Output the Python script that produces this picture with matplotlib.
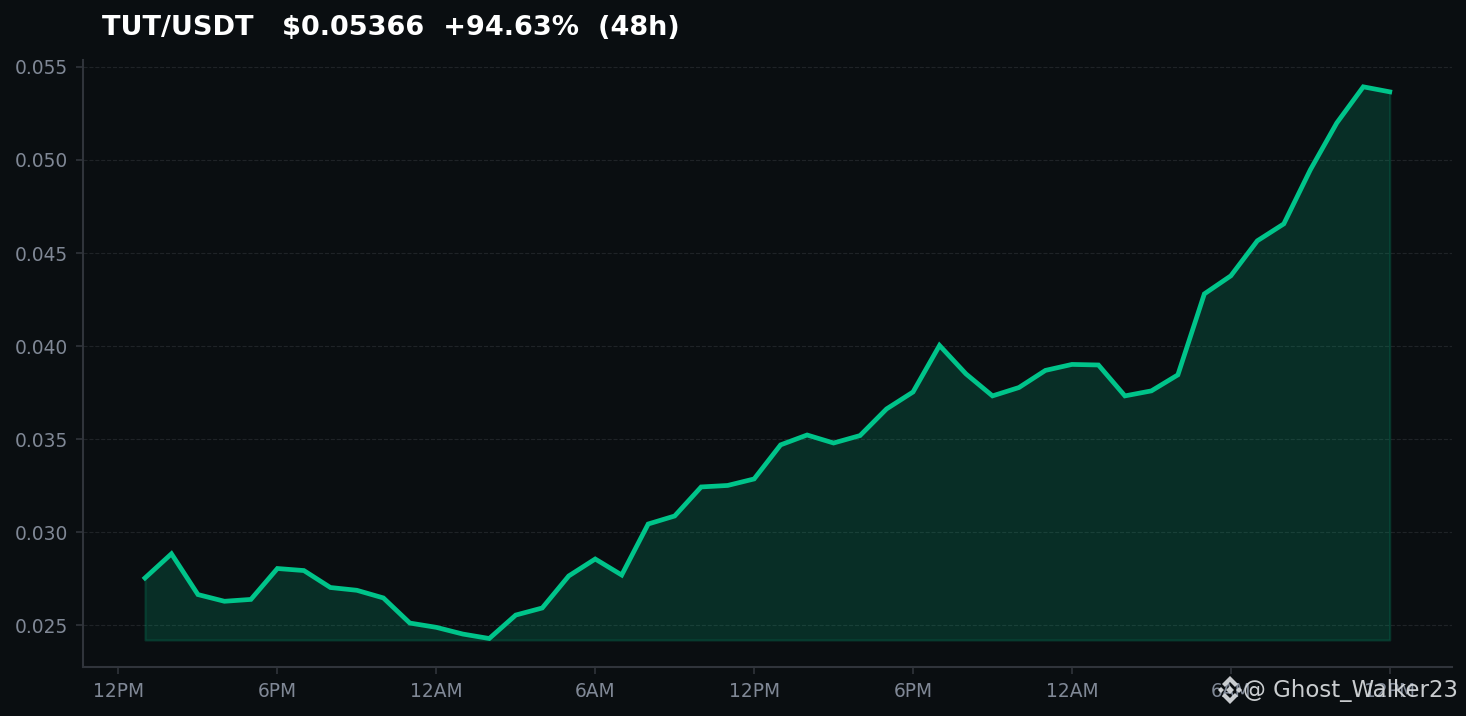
import matplotlib
matplotlib.use("Agg")
import matplotlib.pyplot as plt
from matplotlib.patches import Polygon

hours = list(range(1, 49))
prices = [.02755, .02885, .02666, .02630, .02640, .02806, .02795, .02704, .02689, .02648,
          .02513, .02490, .02454, .02430, .02556, .02594, .02766, .02857, .02771, .03045,
          .03088, .03244, .03252, .03287, .03470, .03523, .03480, .03520, .03663, .03754,
          .04004, .03851, .03733, .03778, .03870, .03902, .03899, .03733, .03760, .03846,
          .04281, .04378, .04566, .04657, .04947, .05199, .05393, .05366]
fill_floor = 0.02422
x_ticks = [0, 6, 12, 18, 24, 30, 36, 42, 48]
x_labels = ["12PM", "6PM", "12AM", "6AM", "12PM", "6PM", "12AM", "6AM", "12PM"]
y_ticks = [0.025, 0.030, 0.035, 0.040, 0.045, 0.050, 0.055]
title = "TUT/USDT   $0.05366  +94.63%  (48h)"
watermark = "@ Ghost_Walker23"

BG = "#0a0e11"
GREEN = "#00c48a"

fig = plt.figure(figsize=(14.66, 7.16), dpi=100, facecolor=BG)
ax = fig.add_axes([83 / 1466, 1 - 667 / 716, (1452 - 83) / 1466, (667 - 60) / 716], facecolor=BG)

ax.fill_between(hours, prices, fill_floor, color=GREEN, alpha=0.18, linewidth=1.5, zorder=2)
ax.plot(hours, prices, color=GREEN, linewidth=3.4, solid_joinstyle="miter", solid_capstyle="projecting", zorder=3)

ax.set_xlim(-1.34, 50.35)
ax.set_ylim(0.02277, 0.05537)
ax.set_xticks(x_ticks)
ax.set_xticklabels(x_labels)
ax.set_yticks(y_ticks)
ax.set_yticklabels([f"{v:.3f}" for v in y_ticks])
ax.tick_params(axis="both", colors="#30343b", labelcolor="#808896", labelsize=13.4, length=5, width=1.2, pad=6)
ax.grid(axis="y", color="#1f2327", linestyle="--", linewidth=0.8, zorder=1)
ax.set_axisbelow(True)
for side in ("top", "right"):
    ax.spines[side].set_visible(False)
for side in ("left", "bottom"):
    ax.spines[side].set_color("#30343b")
    ax.spines[side].set_linewidth(1.5)

fig.text(102 / 1466, 1 - 28 / 716, title, color="white", fontsize=19.5, fontweight="bold", ha="left", va="center")

INK = "#d5d8da"
fig.text(1458 / 1466, 1 - 691 / 716, watermark, color=INK, fontsize=16.5, ha="right", va="center", alpha=0.95, zorder=10)


def shape(points, cx=1230, cy=690):
    pts = [((cx + dx) / 1466, 1 - (cy + dy) / 716) for dx, dy in points]
    fig.add_artist(Polygon(pts, closed=True, transform=fig.transFigure, zorder=11,
                           facecolor=INK, edgecolor="none", alpha=0.95))


shape([(0, -14), (8, -6), (5, -3), (0, -8), (-5, -3), (-8, -6)])
shape([(0, 14), (8, 6), (5, 3), (0, 8), (-5, 3), (-8, 6)])
shape([(0, -4), (4, 0), (0, 4), (-4, 0)])
shape([(-9, -3), (-6, 0), (-9, 3), (-12, 0)])
shape([(9, -3), (12, 0), (9, 3), (6, 0)])

fig.savefig("out.png", dpi=100, facecolor=BG)
